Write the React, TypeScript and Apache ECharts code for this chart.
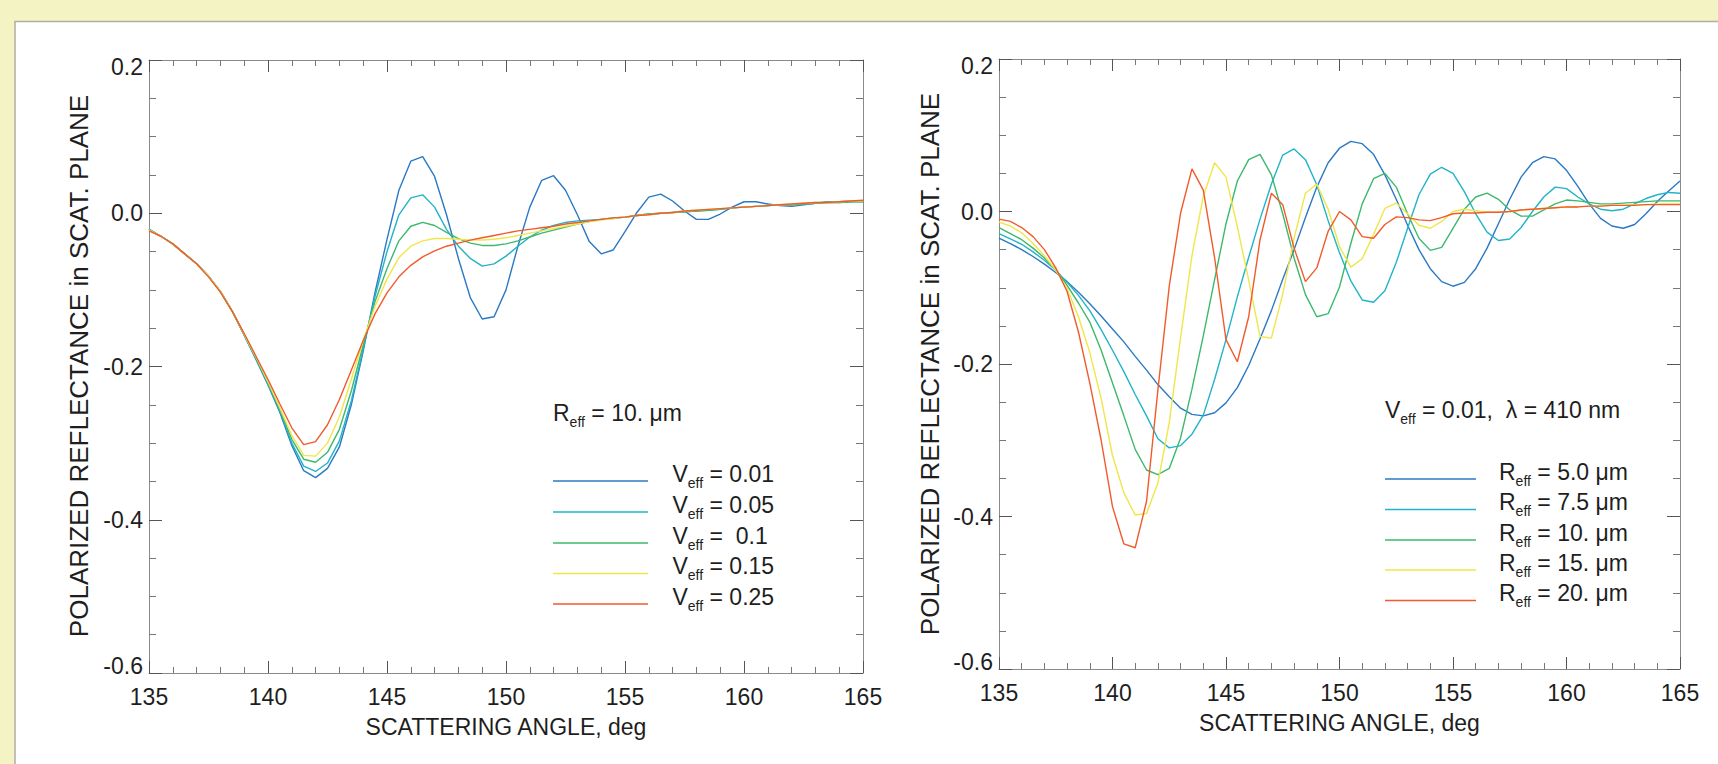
import React, { useEffect, useRef } from "react";
import * as echarts from "echarts";

// Scattering angle grid (deg)
const ANGLES = [
  135, 135.5, 136, 136.5, 137, 137.5, 138, 138.5, 139, 139.5,
  140, 140.5, 141, 141.5, 142, 142.5, 143, 143.5, 144, 144.5,
  145, 145.5, 146, 146.5, 147, 147.5, 148, 148.5, 149, 149.5,
  150, 150.5, 151, 151.5, 152, 152.5, 153, 153.5, 154, 154.5,
  155, 155.5, 156, 156.5, 157, 157.5, 158, 158.5, 159, 159.5,
  160, 160.5, 161, 161.5, 162, 162.5, 163, 163.5, 164, 164.5, 165,
];

// Left panel: R_eff = 10 um, varying V_eff
const L_V001 = [
  -0.021, -0.030, -0.040, -0.053, -0.066, -0.082, -0.102, -0.128, -0.159, -0.191,
  -0.224, -0.260, -0.303, -0.336, -0.345, -0.333, -0.305, -0.250, -0.180, -0.103,
  -0.034, 0.030, 0.068, 0.074, 0.048, -0.002, -0.059, -0.110, -0.138, -0.135,
  -0.100, -0.043, 0.008, 0.043, 0.049, 0.030, -0.002, -0.037, -0.053, -0.048,
  -0.024, 0.001, 0.021, 0.025, 0.016, 0.003, -0.008, -0.008, -0.001, 0.008,
  0.015, 0.015, 0.012, 0.010, 0.009, 0.011, 0.013, 0.015, 0.015, 0.016, 0.016,
];
const L_V005 = [
  -0.021, -0.030, -0.040, -0.053, -0.066, -0.082, -0.102, -0.128, -0.159, -0.190,
  -0.223, -0.258, -0.300, -0.330, -0.337, -0.326, -0.297, -0.245, -0.177, -0.108,
  -0.050, -0.002, 0.020, 0.024, 0.008, -0.021, -0.043, -0.059, -0.069, -0.066,
  -0.056, -0.043, -0.031, -0.022, -0.016, -0.012, -0.010, -0.009, -0.008, -0.007,
  -0.005, -0.003, -0.001, 0.000, 0.001, 0.002, 0.003, 0.004, 0.005, 0.007,
  0.008, 0.009, 0.010, 0.011, 0.011, 0.012, 0.013, 0.014, 0.014, 0.015, 0.015,
];
const L_V010 = [
  -0.021, -0.030, -0.040, -0.053, -0.066, -0.082, -0.102, -0.128, -0.158, -0.189,
  -0.221, -0.256, -0.295, -0.321, -0.325, -0.312, -0.282, -0.232, -0.172, -0.115,
  -0.072, -0.036, -0.017, -0.012, -0.016, -0.025, -0.033, -0.039, -0.042, -0.042,
  -0.040, -0.036, -0.031, -0.026, -0.022, -0.018, -0.014, -0.011, -0.008, -0.006,
  -0.005, -0.003, -0.001, 0.000, 0.001, 0.002, 0.003, 0.004, 0.005, 0.007,
  0.008, 0.009, 0.010, 0.011, 0.011, 0.012, 0.013, 0.014, 0.014, 0.015, 0.015,
];
const L_V015 = [
  -0.022, -0.030, -0.040, -0.053, -0.066, -0.082, -0.102, -0.128, -0.158, -0.188,
  -0.220, -0.254, -0.290, -0.316, -0.317, -0.300, -0.266, -0.217, -0.166, -0.121,
  -0.086, -0.058, -0.043, -0.036, -0.033, -0.033, -0.034, -0.035, -0.035, -0.034,
  -0.032, -0.029, -0.026, -0.023, -0.020, -0.017, -0.014, -0.011, -0.009, -0.007,
  -0.005, -0.003, -0.002, 0.000, 0.001, 0.003, 0.004, 0.005, 0.006, 0.007,
  0.008, 0.009, 0.010, 0.011, 0.012, 0.013, 0.014, 0.014, 0.015, 0.016, 0.016,
];
const L_V025 = [
  -0.023, -0.030, -0.040, -0.053, -0.066, -0.083, -0.103, -0.128, -0.157, -0.187,
  -0.217, -0.249, -0.280, -0.302, -0.298, -0.276, -0.243, -0.205, -0.166, -0.131,
  -0.104, -0.083, -0.068, -0.057, -0.049, -0.043, -0.039, -0.035, -0.032, -0.029,
  -0.026, -0.023, -0.021, -0.019, -0.017, -0.014, -0.012, -0.010, -0.008, -0.006,
  -0.005, -0.003, -0.002, 0.000, 0.001, 0.003, 0.004, 0.005, 0.006, 0.007,
  0.008, 0.009, 0.010, 0.011, 0.012, 0.013, 0.014, 0.014, 0.015, 0.016, 0.017,
];

// Right panel: V_eff = 0.01, lambda = 410 nm, varying R_eff
const R_R50 = [
  -0.035, -0.042, -0.050, -0.059, -0.069, -0.080, -0.092, -0.106, -0.121, -0.137,
  -0.154, -0.171, -0.190, -0.208, -0.227, -0.243, -0.258, -0.266, -0.268, -0.264,
  -0.251, -0.231, -0.202, -0.167, -0.130, -0.089, -0.050, -0.008, 0.032, 0.064,
  0.083, 0.092, 0.089, 0.075, 0.048, 0.016, -0.018, -0.050, -0.075, -0.092,
  -0.098, -0.093, -0.075, -0.048, -0.016, 0.016, 0.045, 0.064, 0.072, 0.069,
  0.054, 0.033, 0.010, -0.009, -0.019, -0.022, -0.017, -0.003, 0.013, 0.027, 0.040,
];
const R_R75 = [
  -0.029, -0.036, -0.043, -0.053, -0.064, -0.077, -0.093, -0.110, -0.130, -0.155,
  -0.182, -0.210, -0.240, -0.268, -0.298, -0.310, -0.307, -0.292, -0.267, -0.220,
  -0.168, -0.112, -0.060, -0.010, 0.036, 0.074, 0.082, 0.068, 0.035, -0.012,
  -0.054, -0.091, -0.116, -0.119, -0.104, -0.067, -0.022, 0.022, 0.049, 0.058,
  0.050, 0.026, -0.003, -0.027, -0.038, -0.036, -0.021, 0.000, 0.019, 0.032,
  0.030, 0.019, 0.010, 0.003, 0.001, 0.003, 0.010, 0.017, 0.022, 0.025, 0.024,
];
const R_R10 = [
  -0.021, -0.029, -0.037, -0.048, -0.061, -0.076, -0.097, -0.120, -0.145, -0.182,
  -0.225, -0.268, -0.312, -0.339, -0.345, -0.337, -0.297, -0.233, -0.163, -0.089,
  -0.016, 0.040, 0.068, 0.075, 0.048, -0.003, -0.061, -0.109, -0.138, -0.134,
  -0.099, -0.042, 0.010, 0.043, 0.050, 0.032, -0.003, -0.035, -0.051, -0.047,
  -0.022, 0.003, 0.019, 0.024, 0.016, 0.002, -0.006, -0.006, 0.002, 0.010,
  0.015, 0.014, 0.012, 0.010, 0.010, 0.011, 0.012, 0.013, 0.014, 0.014, 0.014,
];
const R_R15 = [
  -0.014, -0.019, -0.028, -0.042, -0.058, -0.077, -0.101, -0.138, -0.185, -0.245,
  -0.320, -0.369, -0.398, -0.396, -0.356, -0.277, -0.165, -0.058, 0.020, 0.064,
  0.045, -0.020, -0.090, -0.164, -0.166, -0.108, -0.035, 0.024, 0.036, 0.003,
  -0.046, -0.073, -0.062, -0.030, 0.004, 0.011, -0.003, -0.018, -0.022, -0.013,
  0.000, 0.003, 0.001, -0.001, -0.001, 0.000, 0.002, 0.003, 0.004, 0.005,
  0.006, 0.006, 0.007, 0.007, 0.008, 0.008, 0.009, 0.009, 0.010, 0.010, 0.010,
];
const R_R20 = [
  -0.010, -0.013, -0.021, -0.033, -0.050, -0.074, -0.105, -0.158, -0.225, -0.300,
  -0.387, -0.436, -0.441, -0.380, -0.234, -0.098, -0.002, 0.056, 0.028, -0.061,
  -0.168, -0.197, -0.138, -0.037, 0.024, 0.009, -0.048, -0.092, -0.074, -0.026,
  0.000, -0.011, -0.033, -0.035, -0.017, -0.007, -0.008, -0.011, -0.012, -0.008,
  -0.003, -0.002, -0.002, -0.001, -0.001, 0.000, 0.002, 0.003, 0.004, 0.005,
  0.006, 0.006, 0.007, 0.007, 0.008, 0.008, 0.008, 0.009, 0.009, 0.009, 0.009,
];

const LEFT_SERIES = [L_V001, L_V005, L_V010, L_V015, L_V025];
const RIGHT_SERIES = [R_R50, R_R75, R_R10, R_R15, R_R20];
const LEFT_LABELS = ["0.01", "0.05", " 0.1", "0.15", "0.25"];
const RIGHT_LABELS = ["5.0", "7.5", "10.", "15.", "20."];
const COLORS = ["#2a79c4", "#22b3c9", "#3db86c", "#efe64a", "#f25a2c"];

const X_TITLE = "SCATTERING ANGLE, deg";
const Y_TITLE = "POLARIZED REFLECTANCE in SCAT. PLANE";

const FONT = "'Liberation Sans', Arial, Helvetica, sans-serif";
const TXT = "#1e1e1e";

const GRIDS = [
  { left: 149, top: 60, width: 714, height: 613 },
  { left: 999, top: 59, width: 681, height: 610 },
];

const RICH = {
  m: { fontSize: 23, fontFamily: FONT, lineHeight: 32, verticalAlign: "middle", fill: TXT },
  s: { fontSize: 14, fontFamily: FONT, lineHeight: 16, verticalAlign: "bottom", fill: TXT },
};

function richText(x: number, y: number, text: string) {
  return {
    type: "text",
    x,
    y,
    z: 10,
    style: {
      text,
      rich: RICH,
      fill: TXT,
      fontSize: 23,
      fontFamily: FONT,
      align: "left",
      verticalAlign: "middle",
    },
  };
}

function buildOption() {
  const xAxes: any[] = [];
  const yAxes: any[] = [];
  GRIDS.forEach((_, gi) => {
    const xBase = {
      type: "value",
      gridIndex: gi,
      min: 135,
      max: 165,
      interval: 5,
      axisLine: { show: true, onZero: false, lineStyle: { color: "#8a8a8a", width: 1 } },
      axisTick: { show: true, inside: true, length: 12, lineStyle: { color: "#555", width: 1 } },
      minorTick: { show: true, splitNumber: 5, length: 6, lineStyle: { color: "#777", width: 1 } },
      splitLine: { show: false },
      minorSplitLine: { show: false },
    };
    xAxes.push({
      ...xBase,
      position: "bottom",
      axisLabel: {
        show: true,
        margin: 17,
        lineHeight: 14,
        fontSize: 23,
        fontFamily: FONT,
        color: TXT,
        showMinLabel: true,
        showMaxLabel: true,
        hideOverlap: false,
      },
    });
    xAxes.push({ ...xBase, position: "top", axisLabel: { show: false } });

    const yBase = {
      type: "value",
      gridIndex: gi,
      min: -0.6,
      max: 0.2,
      interval: 0.2,
      axisLine: { show: true, onZero: false, lineStyle: { color: "#8a8a8a", width: 1 } },
      axisTick: { show: true, inside: true, length: 13, lineStyle: { color: "#555", width: 1 } },
      minorTick: { show: true, splitNumber: 4, length: 7, lineStyle: { color: "#777", width: 1 } },
      splitLine: { show: false },
      minorSplitLine: { show: false },
    };
    yAxes.push({
      ...yBase,
      position: "left",
      axisLabel: {
        show: true,
        margin: 6,
        lineHeight: 14,
        fontSize: 23,
        fontFamily: FONT,
        color: TXT,
        showMinLabel: true,
        showMaxLabel: true,
        hideOverlap: false,
        verticalAlignMinLabel: "bottom",
        verticalAlignMaxLabel: "top",
        formatter: (v: number) => (Math.abs(v) < 1e-9 ? "0.0" : v.toFixed(1)),
      },
    });
    yAxes.push({ ...yBase, position: "right", axisLabel: { show: false } });
  });

  const series: any[] = [];
  [LEFT_SERIES, RIGHT_SERIES].forEach((group, gi) => {
    group.forEach((vals, k) => {
      series.push({
        type: "line",
        xAxisIndex: gi * 2,
        yAxisIndex: gi * 2,
        showSymbol: false,
        symbol: "none",
        silent: true,
        lineStyle: { color: COLORS[k], width: 1.4 },
        itemStyle: { color: COLORS[k] },
        data: ANGLES.map((a, i) => [a, vals[i]]),
      });
    });
  });

  const graphic: any[] = [
    {
      type: "rect",
      z: -10,
      silent: true,
      shape: { x: 15, y: 21.5, width: 1720, height: 760 },
      style: { fill: "#ffffff", stroke: "#aeaea4", lineWidth: 1.5 },
    },
  ];

  // axis titles
  const xTitlePos = [
    [506, 727],
    [1339.5, 723],
  ];
  const yTitlePos = [
    [79, 366],
    [930, 364],
  ];
  for (let gi = 0; gi < 2; gi++) {
    graphic.push({
      type: "text",
      x: xTitlePos[gi][0],
      y: xTitlePos[gi][1],
      z: 10,
      style: { text: X_TITLE, fontSize: 23, fontFamily: FONT, fill: TXT, align: "center", verticalAlign: "middle" },
    });
    graphic.push({
      type: "text",
      x: yTitlePos[gi][0],
      y: yTitlePos[gi][1],
      rotation: Math.PI / 2,
      z: 10,
      style: { text: Y_TITLE, fontSize: 26, fontFamily: FONT, fill: TXT, align: "center", verticalAlign: "middle" },
    });
  }

  // left legend
  graphic.push(richText(553, 412.5, "{m|R}{s|eff}{m| = 10. μm}"));
  const leftLineY = [481, 512, 543, 573.5, 604];
  leftLineY.forEach((ly, k) => {
    graphic.push({
      type: "line",
      z: 10,
      shape: { x1: 553, y1: ly, x2: 648, y2: ly },
      style: { stroke: COLORS[k], lineWidth: 1.6 },
    });
    graphic.push(richText(672.5, ly - 7.5, `{m|V}{s|eff}{m| = ${LEFT_LABELS[k]}}`));
  });

  // right legend
  graphic.push(richText(1385, 410, "{m|V}{s|eff}{m| = 0.01,  λ = 410 nm}"));
  const rightLineY = [479, 509.5, 540, 570, 600.5];
  rightLineY.forEach((ly, k) => {
    graphic.push({
      type: "line",
      z: 10,
      shape: { x1: 1385, y1: ly, x2: 1476, y2: ly },
      style: { stroke: COLORS[k], lineWidth: 1.6 },
    });
    graphic.push(richText(1499, ly - 7.5, `{m|R}{s|eff}{m| = ${RIGHT_LABELS[k]} μm}`));
  });

  return {
    animation: false,
    backgroundColor: "#f3f3c3",
    grid: GRIDS.map((g) => ({ ...g, containLabel: false })),
    xAxis: xAxes,
    yAxis: yAxes,
    series,
    graphic,
  };
}

export default function App() {
  const ref = useRef<HTMLDivElement>(null);
  useEffect(() => {
    if (!ref.current) return;
    const chart = echarts.init(ref.current, null, { renderer: "svg" });
    chart.setOption(buildOption() as any);
    return () => chart.dispose();
  }, []);
  return (
    <div
      ref={ref}
      style={{ position: "fixed", left: 0, top: 0, width: 1718, height: 764 }}
    />
  );
}
